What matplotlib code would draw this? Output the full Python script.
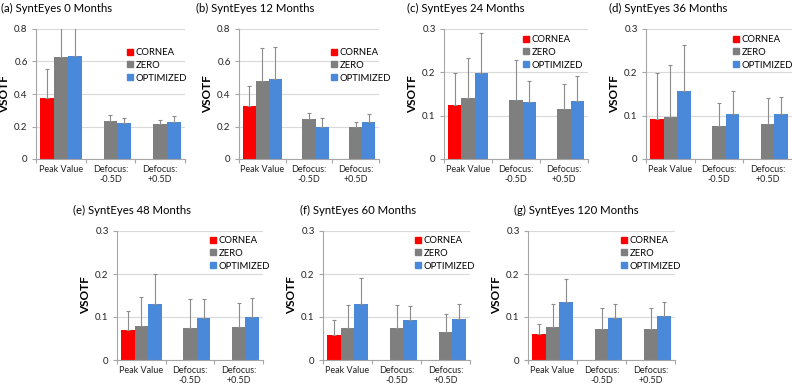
import numpy as np
import matplotlib
matplotlib.use('Agg')
import matplotlib.pyplot as plt
from matplotlib.patches import Patch
from matplotlib.ticker import FuncFormatter

plt.rcParams['font.family'] = ['Lato', 'DejaVu Sans']

# data
panels     = [ '(a)', '(b)', '(c)', '(d)', '(e)', '(f)', '(g)' ]
months     = [ 0, 12, 24, 36, 48, 60, 120 ]
categories = [ 'Peak Value', 'Defocus:\n-0.5D', 'Defocus:\n+0.5D' ]
series     = [ 'CORNEA', 'ZERO', 'OPTIMIZED' ]

# cornea only has a peak value
cornea     = [ 0.373, 0.325, 0.125, 0.092, 0.070, 0.058, 0.060 ]
cornea_err = [ 0.179, 0.125, 0.073, 0.107, 0.044, 0.034, 0.023 ]

zero = [ [ 0.628, 0.236, 0.217 ],
         [ 0.477, 0.245, 0.198 ],
         [ 0.141, 0.136, 0.116 ],
         [ 0.096, 0.076, 0.080 ],
         [ 0.078, 0.074, 0.076 ],
         [ 0.074, 0.075, 0.065 ],
         [ 0.076, 0.073, 0.072 ] ]
zero_err = [ [ 0.250, 0.033, 0.023 ],
             [ 0.206, 0.037, 0.032 ],
             [ 0.092, 0.093, 0.056 ],
             [ 0.120, 0.053, 0.061 ],
             [ 0.068, 0.069, 0.056 ],
             [ 0.055, 0.054, 0.042 ],
             [ 0.055, 0.049, 0.048 ] ]

optimized = [ [ 0.634, 0.219, 0.228 ],
              [ 0.494, 0.200, 0.228 ],
              [ 0.198, 0.132, 0.134 ],
              [ 0.156, 0.105, 0.104 ],
              [ 0.131, 0.097, 0.100 ],
              [ 0.130, 0.092, 0.096 ],
              [ 0.135, 0.098, 0.102 ] ]
optimized_err = [ [ 0.250, 0.033, 0.037 ],
                  [ 0.193, 0.051, 0.050 ],
                  [ 0.092, 0.048, 0.057 ],
                  [ 0.108, 0.052, 0.039 ],
                  [ 0.070, 0.046, 0.045 ],
                  [ 0.060, 0.034, 0.035 ],
                  [ 0.054, 0.033, 0.033 ] ]

ymax  = [ 0.8, 0.8, 0.3, 0.3, 0.3, 0.3, 0.3 ]
ystep = [ 0.2, 0.2, 0.1, 0.1, 0.1, 0.1, 0.1 ]

colors = [ '#ff0000', '#7f7f7f', '#4a88d9' ]

W, H = 792., 385.
# axes boxes in pixels: left, right, top, bottom
boxes = [ ( 36, 185, 29, 159 ), ( 239, 379, 29, 159 ), ( 444, 588, 29, 159 ), ( 646, 792, 29, 159 ),
          ( 117, 263, 231, 360 ), ( 323, 470, 231, 360 ), ( 528, 675, 231, 360 ) ]
title_x = [ 1, 196, 407, 609, 73, 300, 514 ]
leg_x   = [ 130, 334, 526, 736, 213, 418, 624 ]
leg_y   = [ 54, 54, 41, 41, 242, 242, 242 ]

fig = plt.figure( figsize = ( W/100, H/100 ), dpi = 100 )

x = np.arange( len( categories ) )
w = 0.28
errkw = dict( fmt = 'none', ecolor = '#8c8c8c', elinewidth = 0.8, capsize = 1.3, capthick = 0.8 )

for i in range( len( panels ) ):
    l, r, t, b = boxes[ i ]
    ax = fig.add_axes( [ l/W, 1 - b/H, ( r - l )/W, ( b - t )/H ] )

    c_vals = [ cornea[ i ], np.nan, np.nan ]
    c_errs = [ cornea_err[ i ], np.nan, np.nan ]
    vals = [ c_vals, zero[ i ], optimized[ i ] ]
    errs = [ c_errs, zero_err[ i ], optimized_err[ i ] ]
    for k in range( 3 ):
        pos = x + ( k - 1 )*w
        ax.bar( pos, vals[ k ], width = w, color = colors[ k ], zorder = 2 )
        ax.errorbar( pos, vals[ k ], yerr = [ np.zeros( 3 ), errs[ k ] ], zorder = 3, **errkw )

    ax.set_xlim( -0.5, 2.5 )
    ax.set_ylim( 0, ymax[ i ] )
    ax.set_yticks( np.arange( 0, ymax[ i ] + 1e-6, ystep[ i ] ) )
    ax.yaxis.set_major_formatter( FuncFormatter( lambda v, p: '0' if abs( v ) < 1e-9 else '%g' % v ) )
    ax.grid( axis = 'y', color = '#d9d9d9', linewidth = 0.8, zorder = 0 )
    ax.set_axisbelow( True )

    ax.set_xticks( [ -0.5, 0.5, 1.5, 2.5 ] )
    ax.set_xticklabels( [ ] )
    ax.set_xticks( x, minor = True )
    ax.set_xticklabels( categories, minor = True, fontsize = 6.5, color = '#222222' )
    ax.tick_params( axis = 'x', which = 'minor', length = 0, pad = 4 )
    ax.tick_params( axis = 'x', which = 'major', length = 3, color = '#a6a6a6', width = 0.8 )
    ax.tick_params( axis = 'y', length = 3, color = '#a6a6a6', width = 0.8, labelsize = 7, labelcolor = '#222222', pad = 3 )

    for s in [ 'top', 'right' ]:
        ax.spines[ s ].set_visible( False )
    for s in [ 'left', 'bottom' ]:
        ax.spines[ s ].set_color( '#a6a6a6' )
        ax.spines[ s ].set_linewidth( 0.8 )

    ax.set_ylabel( 'VSOTF', fontsize = 8.5, fontweight = 'bold' )
    ax.yaxis.set_label_coords( -26./( r - l ), 0.5 )

    fig.text( title_x[ i ]/W, 1 - ( t - 21 )/H, panels[ i ] + ' SyntEyes ' + str( months[ i ] ) + ' Months',
              fontsize = 8.2, ha = 'left', va = 'center' )

    handles = [ Patch( color = colors[ k ] ) for k in range( 3 ) ]
    ax.legend( handles, series, loc = 'upper left', frameon = False, fontsize = 6.8,
               bbox_to_anchor = ( ( leg_x[ i ] - 3 - l )/( r - l ), 1 - ( leg_y[ i ] - 6 - t )/( b - t ) ),
               borderpad = 0, borderaxespad = 0, handlelength = 0.6, handleheight = 0.6,
               handletextpad = 0.35, labelspacing = 0.4 )

plt.savefig( 'out.png', dpi = 100 )
